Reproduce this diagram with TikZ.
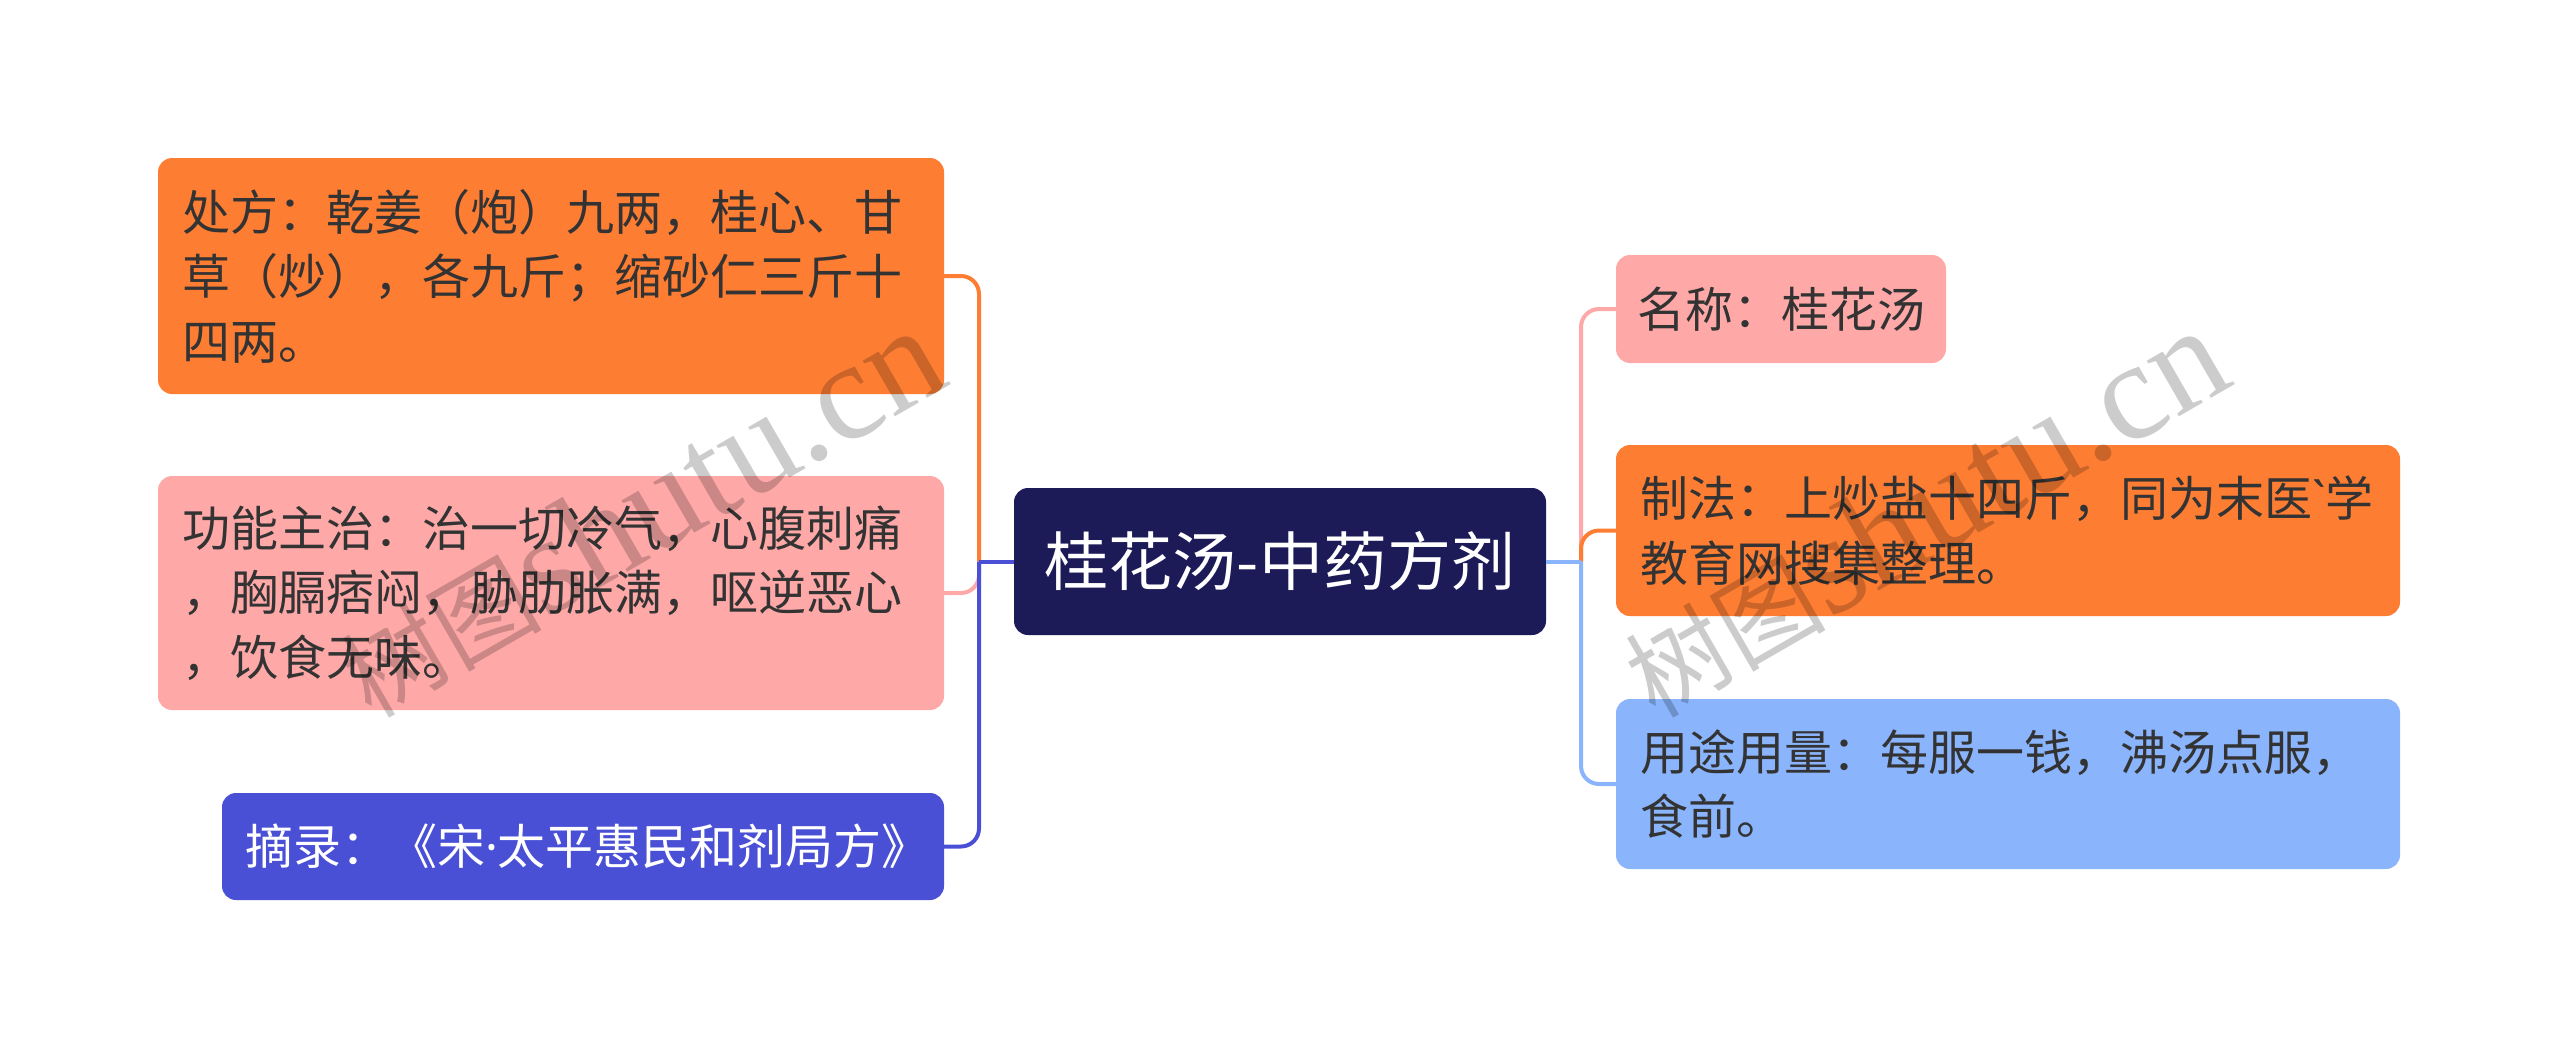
\documentclass[tikz,border=0pt]{standalone}
\usepackage{fontspec}
\setmainfont{Noto Sans CJK SC}[Ligatures=TeXOff]
\newfontfamily\wmlatin{Liberation Serif}
\newfontfamily\wmcjk{Noto Sans CJK SC}
\newfontfamily\narrowdot{Noto Sans}[Ligatures=TeXOff]
\definecolor{corange}{HTML}{FD7D33}
\definecolor{cpink}{HTML}{FEA9A8}
\definecolor{cnavy}{HTML}{1C1A57}
\definecolor{cblue}{HTML}{4A50D5}
\definecolor{clblue}{HTML}{8AB4FC}
\definecolor{txtdark}{HTML}{333333}
\begin{document}
\begin{tikzpicture}[x=1pt,y=-1pt,
  box/.style={rounded corners=14pt, inner xsep=24pt, inner ysep=0pt, align=left,
    text=txtdark, font=\fontsize{48}{64.5}\selectfont},
  conn/.style={line width=4pt},
  elbow/.style={conn, rounded corners=18pt},
  wm/.style={rotate=30, text=black, text opacity=0.2, inner sep=0pt}
]
\useasboundingbox (0,0) rectangle (2560,1061);
\fill[white] (0,0) rectangle (2560,1061);

% central node
\node[box, fill=cnavy, text=white, align=center, inner xsep=0pt,
  minimum width=532pt, minimum height=147pt,
  font=\fontsize{64}{76}\selectfont] (c) at (1280,561.5) {桂花汤-中药方剂};

% left children
\node[box, fill=corange, text width=738pt, minimum height=236pt] (L1) at (551,276)
  {处方：乾姜（炮）九两，桂心、甘\\草（炒），各九斤；缩砂仁三斤十\\四两。};
\node[box, fill=cpink, text width=738pt, minimum height=234pt] (L2) at (551,593)
  {功能主治：治一切冷气，心腹刺痛\\，胸膈痞闷，胁肋胀满，呕逆恶心\\，饮食无味。};
\node[box, fill=cblue, text=white, inner xsep=23pt, text width=676pt, minimum height=107pt] (L3) at (583,846.5)
  {摘录：《宋{\narrowdot ·}太平惠民和剂局方》};

% right children
\node[box, fill=cpink, inner xsep=21pt, text width=288pt, minimum height=108pt] (R1) at (1781,309)
  {名称：桂花汤};
\node[box, fill=corange, text width=736pt, minimum height=171pt] (R2) at (2008,530.5)
  {制法：上炒盐十四斤，同为末医{\narrowdot\char96}学\\教育网搜集整理。};
\node[box, fill=clblue, text width=736pt, minimum height=170pt] (R3) at (2008,784)
  {用途用量：每服一钱，沸汤点服，\\食前。};

% junctions
\coordinate (jl) at (979,561.5);
\coordinate (jr) at (1581,561.5);

% left connectors
\draw[elbow, corange] (jl) |- (L1.east);
\draw[elbow, cpink] (jl) |- (L2.east);
\draw[elbow, cblue] (jl) |- (L3.east);
\draw[conn, cblue] (c.west) -- (jl);

% right connectors
\draw[elbow, cpink] (jr) |- (R1.west);
\draw[elbow, corange] (jr) |- (R2.west);
\draw[elbow, clblue] (jr) |- (R3.west);
\draw[conn, clblue] (c.east) -- (jr);

% watermarks
\node[wm] (wm1) at (640,513)
  {{\wmcjk\fontsize{100}{100}\selectfont 树图}{\wmlatin\fontsize{140}{140}\selectfont shutu.cn}};
\node[wm] (wm2) at (1924,513)
  {{\wmcjk\fontsize{100}{100}\selectfont 树图}{\wmlatin\fontsize{140}{140}\selectfont shutu.cn}};
\end{tikzpicture}
\end{document}
